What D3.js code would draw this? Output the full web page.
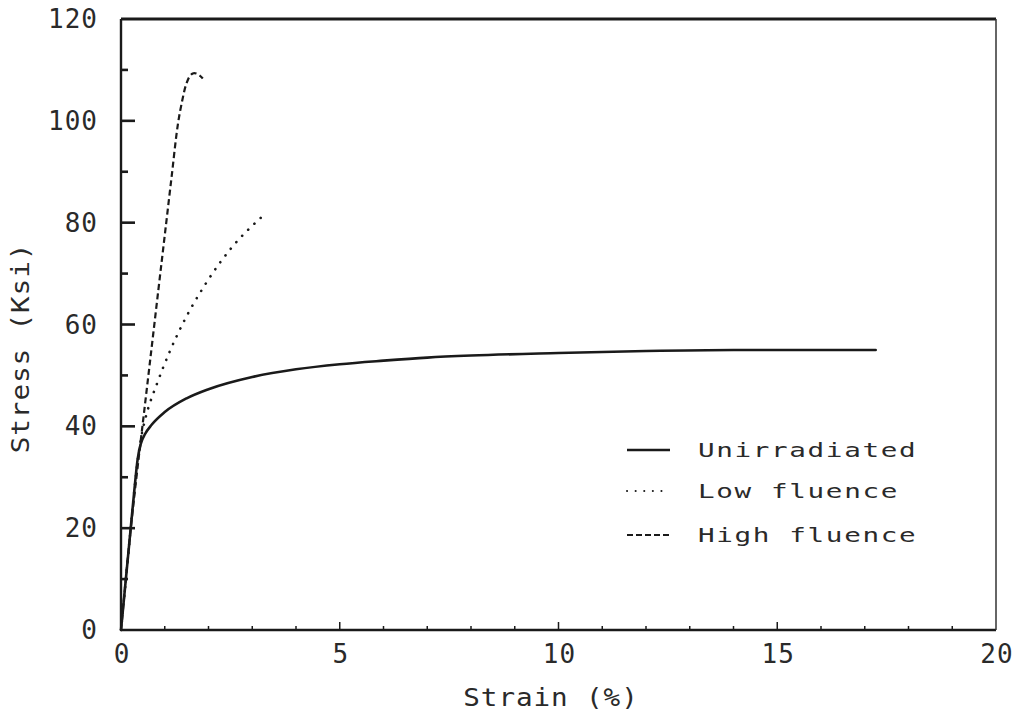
<!DOCTYPE html>
<html>
<head>
<meta charset="utf-8">
<script src="https://cdn.jsdelivr.net/npm/d3@7"></script>
<style>
  body { margin: 0; background: #fff; }
  text { font-family: "DejaVu Sans Mono", monospace; fill: #2a2a2a; }
</style>
</head>
<body>
<div id="chart"></div>
<script>
// strain (%) and stress (ksi)
var unirrStrain = [0, 0.1, 0.2, 0.3, 0.38, 0.45, 0.55, 0.7, 1, 1.5, 2, 3, 4, 5, 6, 7, 8, 10, 12, 14, 17.25];
var unirrStress = [0, 9, 18, 27, 33.5, 36.5, 38.5, 40.3, 42.8, 45.5, 47.3, 49.7, 51.2, 52.2, 52.9, 53.5, 53.9, 54.4, 54.8, 55, 55];

var lowStrain = [0, 0.1, 0.2, 0.3, 0.4, 0.5, 0.55, 0.85, 1.12, 1.42, 1.92, 2.5, 3.2];
var lowStress = [0, 9, 18, 27, 34.5, 39.5, 41.3, 49, 54.8, 60.3, 67.8, 74.8, 81];

var highStrain = [0, 0.1, 0.2, 0.3, 0.4, 0.48, 0.66, 0.85, 1.0, 1.15, 1.3, 1.4, 1.48, 1.56, 1.64, 1.72, 1.8, 1.87];
var highStress = [0, 9, 18, 26, 33.5, 39.3, 52.5, 66.5, 77.5, 88.5, 99.3, 104, 106.9, 108.6, 109.3, 109.3, 108.9, 108.3];

var xTicks = [0, 5, 10, 15, 20];
var yTicks = [0, 20, 40, 60, 80, 100, 120];
var seriesNames = ["Unirradiated", "Low fluence", "High fluence"];

var width = 1017, height = 713;
var margin = { top: 19, right: 21, bottom: 83, left: 121 };

var x = d3.scaleLinear().domain([0, 20]).range([margin.left, width - margin.right]);
var y = d3.scaleLinear().domain([0, 120]).range([height - margin.bottom, margin.top]);

var svg = d3.select("#chart").append("svg")
  .attr("width", width)
  .attr("height", height);

var styles = [
  { width: 2.6, dash: null, cap: "round", curve: d3.curveMonotoneX },
  { width: 2.6, dash: "0.1,8.5", cap: "round", curve: d3.curveMonotoneX },
  { width: 2.2, dash: "6,3.5", cap: "butt", curve: d3.curveCatmullRom.alpha(0.5) }
];

var series = [
  d3.zip(unirrStrain, unirrStress),
  d3.zip(lowStrain, lowStress),
  d3.zip(highStrain, highStress)
];

function lineFor(i) {
  return d3.line()
    .curve(styles[i].curve)
    .x(function (d) { return x(d[0]); })
    .y(function (d) { return y(d[1]); });
}

// frame
var x0 = x(0), x1 = x(20), y0 = y(0), y1 = y(120);
svg.append("line").attr("x1", x0).attr("x2", x1).attr("y1", y1).attr("y2", y1)
  .attr("stroke", "#1a1a1a").attr("stroke-width", 3);
svg.append("line").attr("x1", x0).attr("x2", x1).attr("y1", y0).attr("y2", y0)
  .attr("stroke", "#1a1a1a").attr("stroke-width", 2.6);
svg.append("line").attr("x1", x0).attr("x2", x0).attr("y1", y1).attr("y2", y0)
  .attr("stroke", "#1a1a1a").attr("stroke-width", 2.4);
svg.append("line").attr("x1", x1).attr("x2", x1).attr("y1", y1).attr("y2", y0)
  .attr("stroke", "#333").attr("stroke-width", 1.5);

// y ticks: major every 20, minor every 10
svg.selectAll(".ytick")
  .data(d3.range(10, 120, 10))
  .enter().append("line")
  .attr("x1", x0)
  .attr("x2", function (d) { return x0 + (d % 20 === 0 ? 14 : 7); })
  .attr("y1", function (d) { return y(d); })
  .attr("y2", function (d) { return y(d); })
  .attr("stroke", "#1a1a1a")
  .attr("stroke-width", 2.6);

// x ticks: major every 5, minor every 1
svg.selectAll(".xtick")
  .data(d3.range(1, 20, 1))
  .enter().append("line")
  .attr("x1", function (d) { return x(d); })
  .attr("x2", function (d) { return x(d); })
  .attr("y1", y0)
  .attr("y2", function (d) { return y0 - (d % 5 === 0 ? 8 : 4); })
  .attr("stroke", "#1a1a1a")
  .attr("stroke-width", 1.5);

svg.selectAll(".ylabel")
  .data(yTicks)
  .enter().append("text")
  .attr("x", 98)
  .attr("y", function (d) { return y(d) + 9; })
  .attr("text-anchor", "end")
  .style("font-size", "26px")
  .style("letter-spacing", "1px")
  .text(function (d) { return d; });

svg.selectAll(".xlabel")
  .data(xTicks)
  .enter().append("text")
  .attr("x", function (d) { return x(d) + 1; })
  .attr("y", 663)
  .attr("text-anchor", "middle")
  .style("font-size", "26px")
  .style("letter-spacing", "1px")
  .text(function (d) { return d; });

// axis titles, stretched wide like the plotter lettering
svg.append("text")
  .attr("transform", "translate(551,706) scale(1.15,1)")
  .attr("text-anchor", "middle")
  .style("font-size", "24px")
  .style("letter-spacing", "0.8px")
  .text("Strain (%)");

svg.append("text")
  .attr("transform", "translate(29,348) rotate(-90) scale(1.15,1)")
  .attr("text-anchor", "middle")
  .style("font-size", "24px")
  .style("letter-spacing", "0.8px")
  .text("Stress (Ksi)");

// curves
svg.selectAll(".curve")
  .data(series)
  .enter().append("path")
  .attr("class", "curve")
  .attr("d", function (d, i) { return lineFor(i)(d); })
  .attr("fill", "none")
  .attr("stroke", "#1a1a1a")
  .attr("stroke-width", function (d, i) { return styles[i].width; })
  .attr("stroke-dasharray", function (d, i) { return styles[i].dash; })
  .attr("stroke-linecap", function (d, i) { return styles[i].cap; });

// legend
var legend = svg.selectAll(".legend")
  .data(seriesNames)
  .enter().append("g")
  .attr("transform", function (d, i) { return "translate(627," + [450, 491, 535][i] + ")"; });

legend.append("line")
  .attr("x1", 0).attr("x2", 43)
  .attr("stroke", "#1a1a1a")
  .attr("stroke-width", function (d, i) { return i === 0 ? 2.6 : 2; })
  .attr("stroke-dasharray", function (d, i) { return i === 0 ? null : (i === 1 ? "0.1,8.5" : "6,3"); })
  .attr("stroke-linecap", function (d, i) { return i === 1 ? "round" : "butt"; });

legend.append("text")
  .attr("transform", "translate(71,7) scale(1.38,1)")
  .style("font-size", "20px")
  .style("letter-spacing", "1.2px")
  .text(function (d) { return d; });
</script>
</body>
</html>
